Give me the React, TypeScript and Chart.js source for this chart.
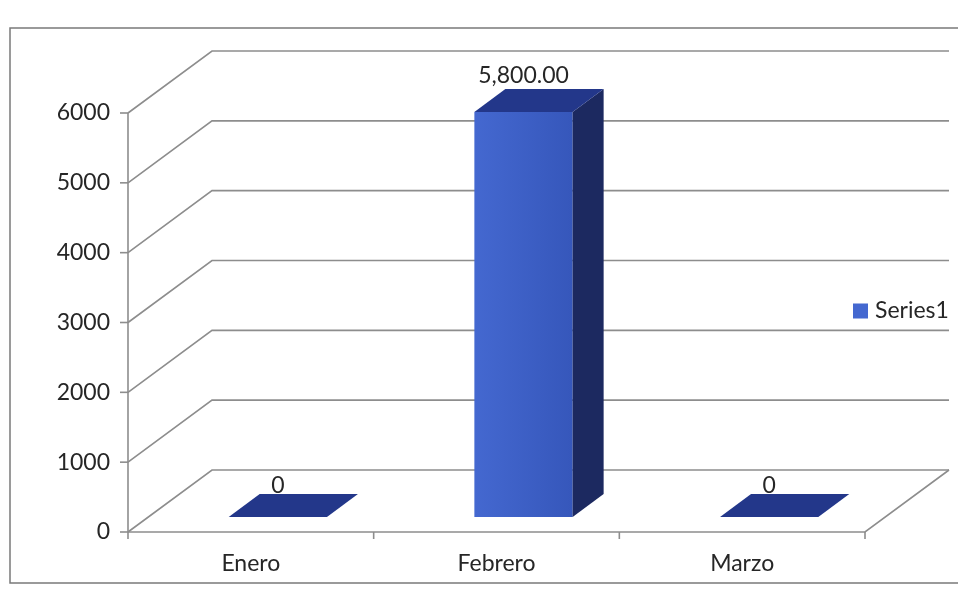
import React, { useEffect, useRef } from "react";
import { Chart, registerables } from "chart.js";

Chart.register(...registerables);

const categories = ["Enero", "Febrero", "Marzo"];
const seriesLabel = "Series1";
const seriesValues = [0, 5800, 0];
const yTickValues = [0, 1000, 2000, 3000, 4000, 5000, 6000];
const Y_MIN = 0;
const Y_MAX = 6000;

const formatLabel = (v: number) =>
  v === 0 ? "0" : v.toLocaleString("en-US", { minimumFractionDigits: 2, maximumFractionDigits: 2 });

// styling constants
const FONT = 'Lato, "Noto Sans", sans-serif';
const WALL_DX = 84;
const WALL_DY = -62;
const BAR_OFF_DX = 27;
const BAR_OFF_DY = -15;
const BAR_DEPTH_DX = 31;
const BAR_DEPTH_DY = -23;
const LINE = "#8d8d8d";
const FRONT_A = "#4468d0";
const FRONT_B = "#3657bb";
const SIDE = "#1c2960";
const TOP = "#23378a";
const TEXT = "#262626";

const threeD = {
  id: "threeD",
  beforeDatasetsDraw(chart: any) {
    const { ctx, chartArea, scales } = chart;
    const { left, right, bottom } = chartArea;
    const y = scales.y;
    const W = chart.width;
    const H = chart.height;
    ctx.save();

    // outer frame
    ctx.strokeStyle = "#7a7a7a";
    ctx.lineWidth = 1.5;
    ctx.beginPath();
    ctx.moveTo(W, 20);
    ctx.lineTo(2, 20);
    ctx.lineTo(2, H - 3);
    ctx.lineTo(W, H - 3);
    ctx.stroke();

    // walls / gridlines
    ctx.strokeStyle = LINE;
    ctx.lineWidth = 1.6;
    yTickValues.forEach((v) => {
      const py = y.getPixelForValue(v);
      ctx.beginPath();
      ctx.moveTo(left, py);
      ctx.lineTo(left + WALL_DX, py + WALL_DY);
      ctx.lineTo(right + WALL_DX, py + WALL_DY);
      ctx.stroke();
      ctx.beginPath();
      ctx.moveTo(left - 8, py);
      ctx.lineTo(left, py);
      ctx.stroke();
    });
    ctx.beginPath();
    ctx.moveTo(left, y.getPixelForValue(Y_MAX));
    ctx.lineTo(left, bottom + 7);
    ctx.stroke();
    ctx.beginPath();
    ctx.moveTo(left, bottom);
    ctx.lineTo(right, bottom);
    ctx.lineTo(right + WALL_DX, bottom + WALL_DY);
    ctx.stroke();
    const n = categories.length;
    for (let i = 1; i <= n; i++) {
      const xb = left + (i * (right - left)) / n;
      ctx.beginPath();
      ctx.moveTo(xb, bottom);
      ctx.lineTo(xb, bottom + 7);
      ctx.stroke();
    }

    // bars
    const meta = chart.getDatasetMeta(0);
    meta.data.forEach((bar: any, i: number) => {
      const p = bar.getProps(["x", "y", "base", "width"], true);
      const l = p.x - p.width / 2 + BAR_OFF_DX;
      const r = p.x + p.width / 2 + BAR_OFF_DX;
      const t = p.y + BAR_OFF_DY;
      const b = p.base + BAR_OFF_DY;
      if (b - t > 0.5) {
        const g = ctx.createLinearGradient(l, 0, r, 0);
        g.addColorStop(0, FRONT_A);
        g.addColorStop(1, FRONT_B);
        ctx.fillStyle = g;
        ctx.fillRect(l, t, r - l, b - t);
        ctx.fillStyle = SIDE;
        ctx.beginPath();
        ctx.moveTo(r, t);
        ctx.lineTo(r + BAR_DEPTH_DX, t + BAR_DEPTH_DY);
        ctx.lineTo(r + BAR_DEPTH_DX, b + BAR_DEPTH_DY);
        ctx.lineTo(r, b);
        ctx.closePath();
        ctx.fill();
      }
      ctx.fillStyle = TOP;
      ctx.beginPath();
      ctx.moveTo(l, t);
      ctx.lineTo(l + BAR_DEPTH_DX, t + BAR_DEPTH_DY);
      ctx.lineTo(r + BAR_DEPTH_DX, t + BAR_DEPTH_DY);
      ctx.lineTo(r, t);
      ctx.closePath();
      ctx.fill();

      ctx.fillStyle = TEXT;
      ctx.font = `23px ${FONT}`;
      ctx.textAlign = "center";
      ctx.textBaseline = "middle";
      const lx = (l + r) / 2;
      const ly = t + BAR_DEPTH_DY - (b - t > 0.5 ? 13 : 8);
      ctx.fillText(formatLabel(seriesValues[i]), lx, ly);
    });

    // legend
    const ly = 303;
    ctx.fillStyle = FRONT_A;
    ctx.fillRect(845, ly - 7.5, 15, 15);
    ctx.fillStyle = TEXT;
    ctx.font = `23px ${FONT}`;
    ctx.textAlign = "left";
    ctx.textBaseline = "middle";
    ctx.fillText(seriesLabel, 867, ly);

    ctx.restore();
    return false;
  },
};

export default function App() {
  const ref = useRef<HTMLCanvasElement | null>(null);
  useEffect(() => {
    if (!ref.current) return;
    const chart = new Chart(ref.current, {
      type: "bar",
      data: {
        labels: categories,
        datasets: [
          {
            label: seriesLabel,
            data: seriesValues,
            backgroundColor: FRONT_A,
            categoryPercentage: 0.8,
            barPercentage: 0.5,
          },
        ],
      },
      options: {
        responsive: false,
        animation: false,
        layout: { padding: { left: 0, top: 105, right: 93, bottom: 0 } },
        plugins: { legend: { display: false }, tooltip: { enabled: false } },
        scales: {
          x: {
            grid: { display: false, drawTicks: false },
            border: { display: false },
            ticks: { color: TEXT, font: { family: FONT, size: 23 }, padding: 18, maxRotation: 0 },
            afterFit: (s: any) => {
              s.height = 54;
            },
          },
          y: {
            min: Y_MIN,
            max: Y_MAX,
            grid: { display: false, drawTicks: false },
            border: { display: false },
            ticks: {
              color: TEXT,
              font: { family: FONT, size: 23 },
              padding: 18,
              callback: (v: any) => String(v),
            },
            afterBuildTicks: (s: any) => {
              s.ticks = yTickValues.map((v) => ({ value: v }));
            },
            afterFit: (s: any) => {
              s.width = 120;
            },
          },
        },
      },
      plugins: [threeD],
    });
    return () => chart.destroy();
  }, []);
  return (
    <div style={{ width: 950, height: 578 }}>
      <canvas ref={ref} width={950} height={578} style={{ display: "block" }} />
    </div>
  );
}
